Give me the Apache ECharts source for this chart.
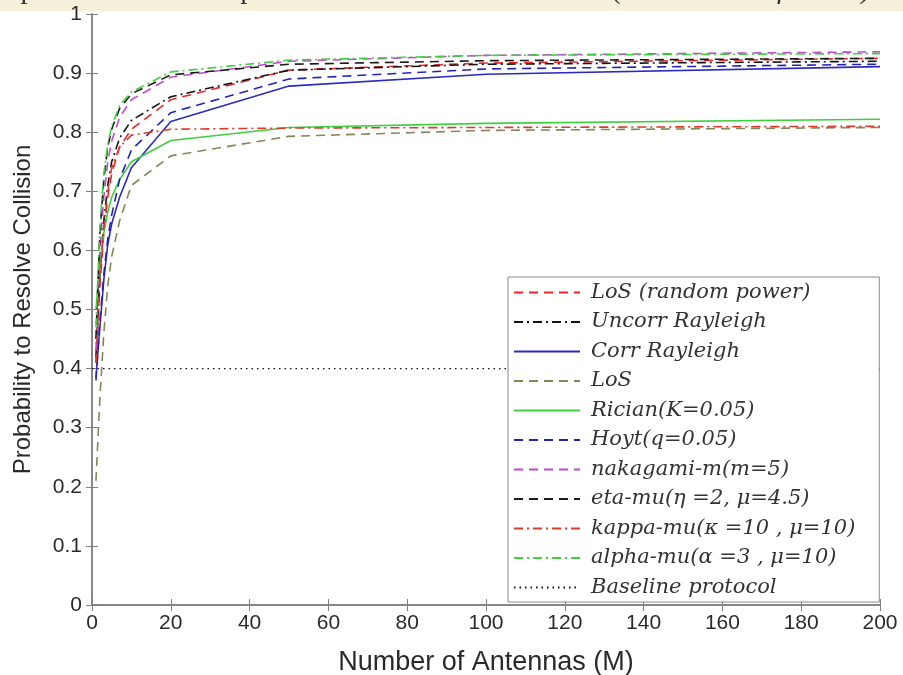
<!DOCTYPE html>
<html>
<head>
<meta charset="utf-8">
<script src="https://cdn.jsdelivr.net/npm/echarts@6/dist/echarts.min.js"></script>
<style>
html,body{margin:0;padding:0;background:#fff;}
#c{width:903px;height:675px;}
</style>
</head>
<body>
<div id="c"></div>
<script>
// ---- data ----
const M = [1, 2, 3, 4, 5, 7, 10, 20, 50, 100, 200];
const losRandomPower = [0.41, 0.54, 0.63, 0.69, 0.73, 0.775, 0.805, 0.855, 0.905, 0.917, 0.925];
const uncorrRayleigh = [0.42, 0.56, 0.65, 0.71, 0.75, 0.79, 0.82, 0.86, 0.905, 0.915, 0.92];
const corrRayleigh   = [0.385, 0.47, 0.55, 0.61, 0.645, 0.69, 0.74, 0.818, 0.878, 0.898, 0.911];
const los            = [0.21, 0.35, 0.46, 0.54, 0.59, 0.65, 0.71, 0.76, 0.793, 0.803, 0.808];
const rician         = [0.5, 0.58, 0.63, 0.665, 0.69, 0.72, 0.75, 0.786, 0.808, 0.815, 0.822];
const hoyt           = [0.38, 0.48, 0.56, 0.62, 0.66, 0.72, 0.77, 0.833, 0.89, 0.907, 0.915];
const nakagami       = [0.43, 0.6, 0.69, 0.75, 0.785, 0.825, 0.855, 0.893, 0.92, 0.93, 0.936];
const etaMu          = [0.45, 0.63, 0.72, 0.775, 0.805, 0.84, 0.865, 0.897, 0.915, 0.921, 0.925];
const kappaMu        = [0.41, 0.55, 0.64, 0.70, 0.74, 0.775, 0.795, 0.805, 0.807, 0.808, 0.81];
const alphaMu        = [0.47, 0.64, 0.73, 0.78, 0.81, 0.845, 0.868, 0.902, 0.922, 0.93, 0.933];
const baselineM      = [0, 200];
const baseline       = [0.4, 0.4];

const seriesNames = [
  'LoS (random power)', 'Uncorr Rayleigh', 'Corr Rayleigh', 'LoS', 'Rician(K=0.05)',
  'Hoyt(q=0.05)', 'nakagami-m(m=5)', 'eta-mu(\u03B7 =2, \u03BC=4.5)',
  'kappa-mu(\u03BA =10 , \u03BC=10)', 'alpha-mu(\u03B1 =3 , \u03BC=10)', 'Baseline protocol'
];
const xTicks = [0, 20, 40, 60, 80, 100, 120, 140, 160, 180, 200];

// ---- styles ----
const DASH = [9, 6];
const DASHDOT = [9, 4, 2, 4];
const specs = [
  {d: losRandomPower, c: '#e8262b', t: DASH},
  {d: uncorrRayleigh, c: '#141414', t: DASHDOT},
  {d: corrRayleigh,   c: '#2b2bbf', t: 'solid'},
  {d: los,            c: '#85855a', t: DASH},
  {d: rician,         c: '#3fcf3f', t: 'solid'},
  {d: hoyt,           c: '#2424b4', t: DASH},
  {d: nakagami,       c: '#c04ad0', t: DASH},
  {d: etaMu,          c: '#1a1a1a', t: DASH},
  {d: kappaMu,        c: '#dd3a2a', t: DASHDOT},
  {d: alphaMu,        c: '#3fcf3f', t: DASHDOT}
];

const series = specs.map((s, i) => ({
  name: seriesNames[i],
  type: 'line',
  symbol: 'none',
  showSymbol: false,
  animation: false,
  data: M.map((m, k) => [m, s.d[k]]),
  lineStyle: {color: s.c, width: 1.6, type: s.t},
  itemStyle: {color: s.c},
  z: 2
}));
series.push({
  name: seriesNames[10],
  type: 'line',
  symbol: 'none',
  showSymbol: false,
  animation: false,
  data: baselineM.map((m, k) => [m, baseline[k]]),
  lineStyle: {color: '#111', width: 1.3, type: [1.5, 4]},
  itemStyle: {color: '#111'},
  z: 1
});

const axisCol = '#808080';
const labelFont = {color: '#2a2a2a', fontFamily: 'Liberation Sans', fontSize: 21};

const chart = echarts.init(document.getElementById('c'), null, {renderer: 'canvas'});
chart.setOption({
  animation: false,
  backgroundColor: '#ffffff',
  graphic: [
    {type: 'rect', shape: {x: 0, y: 0, width: 903, height: 11}, style: {fill: '#f6efd9'}, z: 0},
    {type: 'text', x: -36, y: -24,
     style: {text: 'Comparison of SUCRe protocol over different channels( {i|without interference)}',
             font: '29px "Liberation Serif"', fill: '#333',
             rich: {i: {font: 'italic 29px "Liberation Serif"', fill: '#333'}}}, z: 0}
  ],
  grid: {left: 92, right: 23, top: 14, bottom: 70, outerBoundsMode: 'none', containLabel: false},
  legend: {
    orient: 'vertical',
    left: 508, top: 277,
    itemWidth: 66, itemHeight: 16, itemGap: 8.5,
    padding: [5, 24, 4, 5],
    backgroundColor: '#ffffff',
    borderColor: '#8a8a8a', borderWidth: 1, borderRadius: 0,
    itemStyle: {opacity: 0},
    textStyle: {fontFamily: 'DejaVu Serif', fontStyle: 'italic', fontSize: 21, lineHeight: 16,
                color: '#333', padding: [0, 0, 0, 6]},
    data: seriesNames,
    selectedMode: false
  },
  xAxis: [
    {type: 'value', min: 0, max: 200, interval: 20, position: 'bottom',
     name: 'Number of Antennas (M)', nameLocation: 'middle', nameGap: 44,
     nameTextStyle: {color: '#2a2a2a', fontFamily: 'Liberation Sans', fontSize: 27},
     axisLine: {show: true, lineStyle: {color: axisCol, width: 1.5}},
     axisTick: {show: true, inside: true, length: 6, lineStyle: {color: axisCol}},
     axisLabel: Object.assign({margin: 8, formatter: v => xTicks.includes(v) ? String(v) : ''}, labelFont),
     splitLine: {show: false}},
    {type: 'value', min: 0, max: 200, interval: 20, position: 'top',
     axisLine: {show: true, lineStyle: {color: axisCol, width: 1.5}},
     axisTick: {show: true, inside: true, length: 6, lineStyle: {color: axisCol}},
     axisLabel: {show: false}, splitLine: {show: false}}
  ],
  yAxis: [
    {type: 'value', min: 0, max: 1, interval: 0.1, position: 'left',
     name: 'Probability to Resolve Collision', nameLocation: 'middle', nameGap: 57,
     nameTextStyle: {color: '#2a2a2a', fontFamily: 'Liberation Sans', fontSize: 24},
     axisLine: {show: true, lineStyle: {color: axisCol, width: 1.5}},
     axisTick: {show: true, inside: true, length: 6, lineStyle: {color: axisCol}},
     axisLabel: Object.assign({margin: 10, formatter: v => String(Math.round(v * 10) / 10)}, labelFont),
     splitLine: {show: false}},
    {type: 'value', min: 0, max: 1, interval: 0.1, position: 'right',
     axisLine: {show: true, lineStyle: {color: axisCol, width: 1.5}},
     axisTick: {show: true, inside: true, length: 6, lineStyle: {color: axisCol}},
     axisLabel: {show: false}, splitLine: {show: false}}
  ],
  series: series
});
</script>
</body>
</html>
